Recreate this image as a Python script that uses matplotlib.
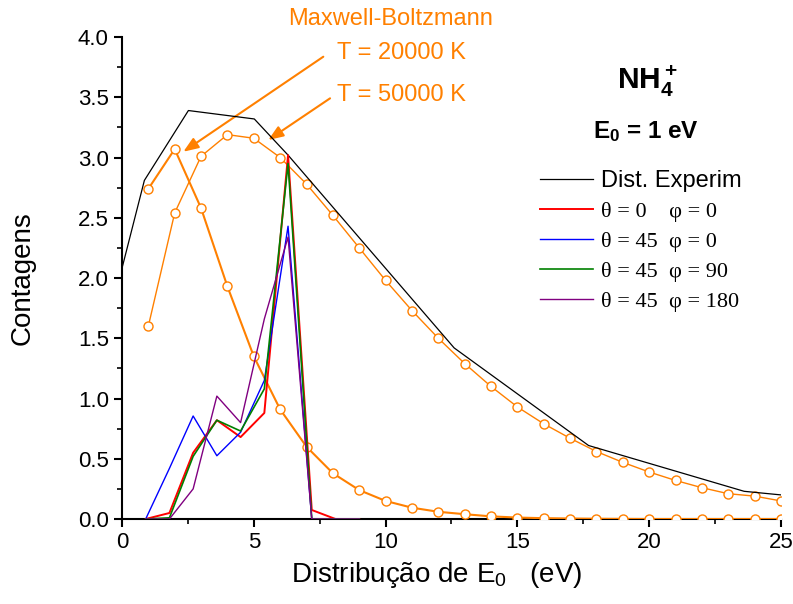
import matplotlib
matplotlib.use('Agg')
import matplotlib.pyplot as plt
import numpy as np

plt.rcParams['font.family'] = ['Liberation Sans', 'DejaVu Sans']
plt.rcParams['mathtext.fontset'] = 'custom'
plt.rcParams['mathtext.rm'] = 'Liberation Sans'
plt.rcParams['mathtext.bf'] = 'Liberation Sans:bold'

# distribuicao experimental
x_exp = [0, 0.85, 2.52, 5.02, 6.3, 12.6, 17.7, 23.6, 25]
y_exp = [2.08, 2.81, 3.39, 3.32, 3.02, 1.42, 0.61, 0.23, 0.20]

# simulacoes
x_sim = [0.9, 1.8, 2.7, 3.6, 4.5, 5.4, 6.3, 7.2, 8.1, 9.0]
y_t0_p0 = [0, 0.05, 0.55, 0.82, 0.68, 0.88, 3.02, 0.075, 0, 0]
y_t45_p0 = [0, 0.42, 0.855, 0.525, 0.72, 1.15, 2.43, 0, 0, 0]
y_t45_p90 = [0, 0.01, 0.52, 0.82, 0.73, 1.08, 2.95, 0, 0, 0]
y_t45_p180 = [0, 0, 0.25, 1.02, 0.80, 1.66, 2.34, 0, 0, 0]

# Maxwell-Boltzmann
x_mb = np.arange(1, 26)
y_mb20000 = [2.74, 3.07, 2.58, 1.93, 1.35, 0.91, 0.60, 0.38, 0.24, 0.15,
             0.094, 0.06, 0.04, 0.022, 0.012, 0.007, 0.004, 0.002, 0.001, 0.0,
             0.0, 0.0, 0.0, 0.0, 0.0]
y_mb50000 = [1.60, 2.54, 3.01, 3.19, 3.16, 3.00, 2.78, 2.52, 2.25, 1.98,
             1.73, 1.50, 1.29, 1.10, 0.93, 0.79, 0.67, 0.56, 0.47, 0.39,
             0.32, 0.26, 0.21, 0.19, 0.15]

laranja = '#FF8000'

fig = plt.figure(figsize=(7.93, 6.04), dpi=100)
ax = fig.add_axes([0.1538, 0.1407, 0.8311, 0.798])

ax.plot(x_mb, y_mb50000, c=laranja, lw=1.0, marker='o', ms=6.5, mfc='white', mec=laranja, mew=1.0, zorder=3)
ax.plot(x_mb, y_mb20000, c=laranja, lw=1.5, marker='o', ms=6.5, mfc='white', mec=laranja, mew=1.0, zorder=3)

l1, = ax.plot(x_exp, y_exp, c='black', lw=0.9, zorder=4)
l2, = ax.plot(x_sim, y_t0_p0, c='#FF0000', lw=1.4, zorder=4)
l3, = ax.plot(x_sim, y_t45_p0, c='#0000FF', lw=1.0, zorder=4)
l4, = ax.plot(x_sim, y_t45_p90, c='#008000', lw=1.2, zorder=4)
l5, = ax.plot(x_sim, y_t45_p180, c='#800080', lw=1.0, zorder=4)

ax.set_xlim(0, 25)
ax.set_ylim(0, 4.0)
ax.spines['right'].set_color('none')
ax.spines['top'].set_color('none')
ax.spines['left'].set_linewidth(1.5)
ax.spines['bottom'].set_linewidth(1.5)
ax.set_xticks([0, 5, 10, 15, 20, 25])
ax.set_xticks(np.arange(2.5, 25, 5), minor=True)
ax.set_yticks(np.arange(0, 4.01, 0.5))
ax.set_yticks(np.arange(0.25, 4, 0.5), minor=True)
ax.set_yticklabels(['%.1f' % v for v in np.arange(0, 4.01, 0.5)])
ax.tick_params(which='major', direction='out', length=6, width=1.5, labelsize=16)
ax.tick_params(which='minor', direction='out', length=3.5, width=1.2)

ax.set_xlabel('Distribução de E$_0$   (eV)', fontsize=20)
ax.xaxis.set_label_coords(0.478, -0.085)
ax.set_ylabel('Contagens', fontsize=20, labelpad=30)

leg = fig.legend([l1, l2, l3, l4, l5],
                 ['Dist. Experim', 'θ = 0    φ = 0', 'θ = 45  φ = 0',
                  'θ = 45  φ = 90', 'θ = 45  φ = 180'],
                 loc='upper left', bbox_to_anchor=(540 / 793, 1 - 170 / 604),
                 bbox_transform=fig.transFigure, frameon=False,
                 borderpad=0, borderaxespad=0,
                 handlelength=2.4, handletextpad=0.36, labelspacing=0.42,
                 prop={'size': 16})
for i, t in enumerate(leg.get_texts()):
    if i == 0:
        t.set_fontsize(17)
    else:
        t.set_family(['Liberation Serif', 'DejaVu Serif'])
        t.set_fontsize(16)

fig.text(0.817, 0.866, r'$\mathbf{NH_4^+}$', fontsize=21.5, ha='center', va='center')
fig.text(0.815, 0.782, r'$\mathbf{E_0}$ = 1 eV', fontsize=17.5, ha='center', va='center',
         fontweight='bold')

estilo_seta = dict(arrowstyle='-|>,head_length=0.9,head_width=0.35', color=laranja,
                   lw=1.5, mutation_scale=10, shrinkA=0, shrinkB=0)
ax.annotate('', xy=(0.2312, 0.7488), xytext=(0.4077, 0.9061), xycoords='figure fraction',
            arrowprops=estilo_seta)
ax.annotate('', xy=(0.3383, 0.7682), xytext=(0.4162, 0.8372), xycoords='figure fraction',
            arrowprops=estilo_seta)
fig.text(0.493, 0.968, 'Maxwell-Boltzmann', color=laranja, fontsize=17, ha='center', va='center')
fig.text(0.425, 0.912, 'T = 20000 K', color=laranja, fontsize=17, ha='left', va='center')
fig.text(0.425, 0.843, 'T = 50000 K', color=laranja, fontsize=17, ha='left', va='center')

fig.savefig('out.png', dpi=100)
